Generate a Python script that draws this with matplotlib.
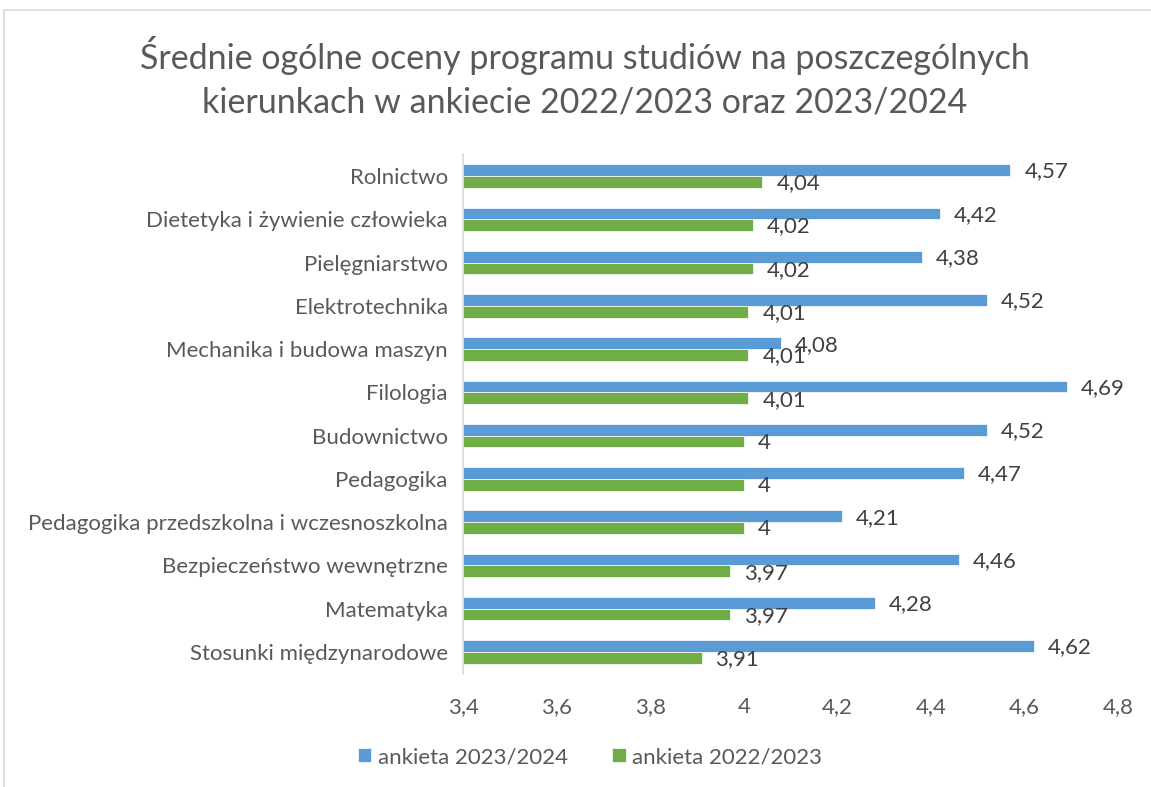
import matplotlib.pyplot as plt
from matplotlib.patches import Rectangle
import numpy as np

plt.rcParams['font.family'] = ['Lato', 'DejaVu Sans']

categories = ['Rolnictwo', 'Dietetyka i żywienie człowieka', 'Pielęgniarstwo',
              'Elektrotechnika', 'Mechanika i budowa maszyn', 'Filologia',
              'Budownictwo', 'Pedagogika', 'Pedagogika przedszkolna i wczesnoszkolna',
              'Bezpieczeństwo wewnętrzne', 'Matematyka', 'Stosunki międzynarodowe']
ankieta_2023_2024 = [4.57, 4.42, 4.38, 4.52, 4.08, 4.69, 4.52, 4.47, 4.21, 4.46, 4.28, 4.62]
ankieta_2022_2023 = [4.04, 4.02, 4.02, 4.01, 4.01, 4.01, 4.00, 4.00, 4.00, 3.97, 3.97, 3.91]
xticks = [3.4, 3.6, 3.8, 4.0, 4.2, 4.4, 4.6, 4.8]

blue = '#5B9BD5'
green = '#70AD47'
grey = '#595959'


def fmt(v):
    return ('%g' % round(v, 2)).replace('.', ',')


fig = plt.figure(figsize=(11.51, 7.87), dpi=100)
ax = fig.add_axes([463 / 1151, 1 - 673.6 / 787, (1118 - 463) / 1151, (673.6 - 154.4) / 787])

y = np.arange(len(categories))
h = 0.27
left = xticks[0]
b1 = ax.barh(y - h / 2, np.array(ankieta_2023_2024) - left, h, left=left, color=blue,
             edgecolor='white', linewidth=0.5, label='ankieta 2023/2024')
b2 = ax.barh(y + h / 2, np.array(ankieta_2022_2023) - left, h, left=left, color=green,
             edgecolor='white', linewidth=0.5, label='ankieta 2022/2023')

for yi, v in zip(y - h / 2, ankieta_2023_2024):
    ax.annotate(fmt(v), (v, yi), xytext=(10, -1), textcoords='offset points',
                ha='left', va='center', fontsize=16, color='#404040')
for yi, v in zip(y + h / 2, ankieta_2022_2023):
    ax.annotate(fmt(v), (v, yi), xytext=(10, -1), textcoords='offset points',
                ha='left', va='center', fontsize=16, color='#404040')

ax.set_xlim(3.4, 4.8)
ax.set_ylim(len(categories) - 0.5, -0.5)
ax.set_xticks(xticks)
ax.set_xticklabels([fmt(t) for t in xticks])
ax.set_yticks(y)
ax.set_yticklabels(categories)
ax.tick_params(axis='both', length=0, labelsize=16, labelcolor=grey)
ax.tick_params(axis='x', pad=17)
ax.tick_params(axis='y', pad=11)
for s in ['top', 'right', 'bottom']:
    ax.spines[s].set_visible(False)
ax.spines['left'].set_color('#D9D9D9')
ax.spines['left'].set_linewidth(1.2)

fig.text(585 / 1151, 1 - 77.5 / 787,
         'Średnie ogólne oceny programu studiów na poszczególnych\nkierunkach w ankiecie 2022/2023 oraz 2023/2024',
         ha='center', va='center', fontsize=24.5, color=grey, linespacing=1.45)

fig.legend(handles=[b1, b2], loc='center', bbox_to_anchor=(590 / 1151, 1 - 757 / 787),
           ncol=2, frameon=False, fontsize=16, labelcolor=grey,
           handlelength=0.6, handleheight=0.6, handletextpad=0.3, columnspacing=2.0)

fig.patches.append(Rectangle((4 / 1151, -0.05), 1.1, 1 - 10 / 787 + 0.05,
                             transform=fig.transFigure, fill=False,
                             edgecolor='#D9D9D9', linewidth=1.2))

fig.savefig('out.png', dpi=100)
